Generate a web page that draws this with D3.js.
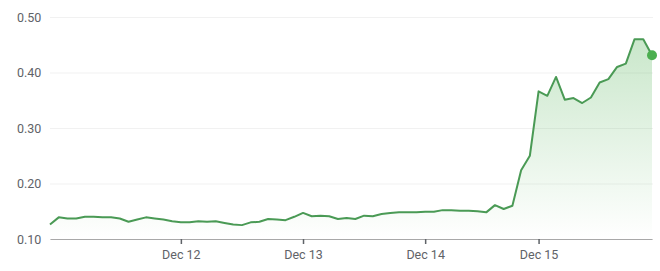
<!DOCTYPE html>
<html>
<head>
<meta charset="utf-8">
<script src="https://cdn.jsdelivr.net/npm/d3@7"></script>
<style>
  html, body { margin: 0; padding: 0; background: #fff; }
  svg { display: block; font-family: Roboto, "Noto Sans", sans-serif; }
</style>
</head>
<body>
<div id="chart"></div>
<script>
// Price readings, one per sample step (index based x axis)
const prices = [
  0.126, 0.139, 0.137, 0.137, 0.140, 0.140, 0.139, 0.139, 0.137, 0.131,
  0.135, 0.139, 0.137, 0.135, 0.132, 0.130, 0.130, 0.132, 0.131, 0.132,
  0.129, 0.126, 0.125, 0.130, 0.131, 0.136, 0.135, 0.134, 0.140, 0.147,
  0.141, 0.142, 0.141, 0.136, 0.138, 0.136, 0.142, 0.141, 0.145, 0.147,
  0.148, 0.148, 0.148, 0.149, 0.149, 0.152, 0.152, 0.151, 0.151, 0.150,
  0.148, 0.161, 0.154, 0.160, 0.224, 0.250, 0.366, 0.358, 0.392, 0.351,
  0.354, 0.345, 0.355, 0.382, 0.388, 0.410, 0.416, 0.460, 0.460, 0.431
];

// Day ticks: sample index where each day begins
const dayTickIndex = [15, 29, 43, 56];
const dayTickLabels = ["Dec 12", "Dec 13", "Dec 14", "Dec 15"];

// Value axis
const yTicks = [0.10, 0.20, 0.30, 0.40, 0.50];

const width = 660, height = 271;
const margin = { top: 17, right: 7, bottom: 32, left: 50 };

const svg = d3.select("#chart").append("svg")
  .attr("width", width)
  .attr("height", height);

const x = d3.scaleLinear()
  .domain([0, prices.length - 1])
  .range([margin.left, width - margin.right - 1]);

const y = d3.scaleLinear()
  .domain([0.10, 0.50])
  .range([height - margin.bottom, margin.top]);

// gradient for the area
const grad = svg.append("defs").append("linearGradient")
  .attr("id", "fillGrad")
  .attr("gradientUnits", "userSpaceOnUse")
  .attr("x1", 0).attr("x2", 0)
  .attr("y1", y(0.46)).attr("y2", y(0.10));
grad.append("stop").attr("offset", "0%").attr("stop-color", "#4caf50").attr("stop-opacity", 0.3);
grad.append("stop").attr("offset", "100%").attr("stop-color", "#4caf50").attr("stop-opacity", 0);

// grid lines + y labels
const yAxis = d3.axisLeft(y)
  .tickValues(yTicks)
  .tickFormat(d3.format(".2f"))
  .tickSize(-(width - margin.right - margin.left))
  .tickPadding(0);

svg.append("g")
  .attr("transform", `translate(${margin.left},0)`)
  .call(yAxis)
  .call(g => g.select(".domain").remove())
  .call(g => g.selectAll(".tick line").attr("stroke", "#f1f1f1").attr("stroke-width", 1))
  .call(g => g.selectAll(".tick text")
    .attr("x", 17 - margin.left)
    .attr("text-anchor", "start")
    .attr("fill", "#5f6368")
    .attr("font-size", 12.5)
    .attr("font-family", "Roboto, sans-serif"));

// area + line
const area = d3.area()
  .x((d, i) => x(i))
  .y0(y(0.10))
  .y1(d => y(d));

const line = d3.line()
  .x((d, i) => x(i))
  .y(d => y(d));

svg.append("path")
  .datum(prices)
  .attr("d", area)
  .attr("fill", "url(#fillGrad)");

// x axis
const xAxis = d3.axisBottom(x)
  .tickValues(dayTickIndex)
  .tickFormat((d, i) => dayTickLabels[i])
  .tickSize(5)
  .tickPadding(6)
  .tickSizeOuter(0);

svg.append("g")
  .attr("transform", `translate(0,${y(0.10)})`)
  .call(xAxis)
  .call(g => g.select(".domain").attr("stroke", "#a8a8a8"))
  .call(g => g.selectAll(".tick line").attr("stroke", "#5f6368").attr("stroke-width", 1.5))
  .call(g => g.selectAll(".tick text")
    .attr("fill", "#5f6368")
    .attr("font-size", 12.5)
    .attr("font-family", "Roboto, sans-serif"));

svg.append("path")
  .datum(prices)
  .attr("d", line)
  .attr("fill", "none")
  .attr("stroke", "#4a9a55")
  .attr("stroke-width", 2)
  .attr("stroke-linejoin", "round");

// end dot
const last = prices.length - 1;
svg.append("circle")
  .attr("cx", x(last))
  .attr("cy", y(prices[last]))
  .attr("r", 5)
  .attr("fill", "#4caf50");
</script>
</body>
</html>
